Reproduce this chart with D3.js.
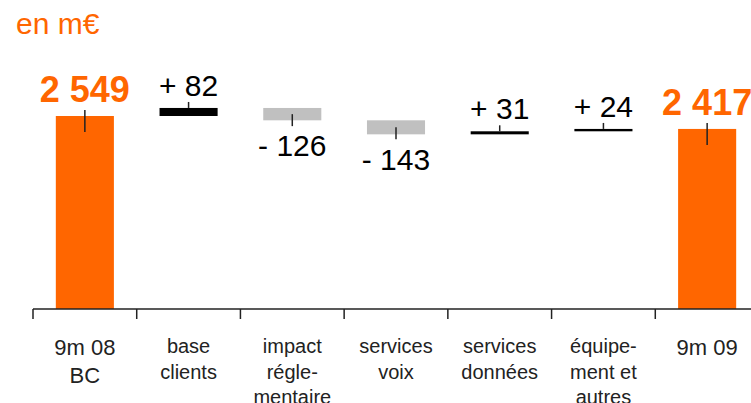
<!DOCTYPE html>
<html>
<head>
<meta charset="utf-8">
<script src="https://cdn.jsdelivr.net/npm/d3@7"></script>
<style>
  body { margin: 0; background: #fff; }
  svg { display: block; font-family: "Liberation Sans", Arial, Helvetica, sans-serif; }
</style>
</head>
<body>
<svg class="waterfall" width="751" height="403"></svg>
<script>
// data
var categories = ["9m 08 BC", "base clients", "impact réglementaire", "services voix", "services données", "équipement et autres", "9m 09"];
var tickLabels = [["9m 08", "BC"], ["base", "clients"], ["impact", "régle-", "mentaire"], ["services", "voix"], ["services", "données"], ["équipe-", "ment et", "autres"], ["9m 09"]];
var values = [2549, 82, -126, -143, 31, 24, 2417];
var kinds = ["total", "delta", "delta", "delta", "delta", "delta", "total"];
var valueLabels = ["2 549", "+ 82", "- 126", "- 143", "+ 31", "+ 24", "2 417"];

var orange = "#ff6600", grey = "#c0c0c0", ink = "#222";
var axisY = 309;

// running totals for the waterfall
var running = 0;
var data = categories.map(function(c, i) {
  var d = { cat: c, value: values[i], kind: kinds[i], label: valueLabels[i], lines: tickLabels[i] };
  if (d.kind === "total") { d.start = 0; d.end = d.value; running = d.value; }
  else { d.start = running; d.end = running + d.value; running = d.end; }
  d.hi = Math.max(d.start, d.end);
  d.lo = Math.min(d.start, d.end);
  return d;
});

var svg = d3.select(".waterfall");

var x = d3.scaleBand()
    .domain(categories)
    .range([33, 759])
    .paddingInner(0.44)
    .paddingOuter(0.22);

// broken value axis: bottom of the plot is not zero
var y = d3.scaleLinear()
    .domain([580, 2549])
    .range([axisY, 116]);

function yv(v) { return v === 0 ? axisY : y(v); }

svg.append("text")
    .attr("x", 16)
    .attr("y", 34)
    .attr("fill", orange)
    .attr("font-size", 30)
    .text("en m€");

// bars
svg.selectAll("rect.bar")
    .data(data)
  .enter().append("rect")
    .attr("class", "bar")
    .attr("x", function(d) { return x(d.cat); })
    .attr("width", x.bandwidth())
    .attr("y", function(d) { return yv(d.hi); })
    .attr("height", function(d) { return Math.max(1.5, yv(d.lo) - yv(d.hi)); })
    .attr("fill", function(d) {
      if (d.kind === "total") return orange;
      return d.value >= 0 ? "#000" : grey;
    });

// little leader strokes
svg.selectAll("line.lead")
    .data(data)
  .enter().append("line")
    .attr("class", "lead")
    .attr("x1", function(d) { return x(d.cat) + x.bandwidth() / 2; })
    .attr("x2", function(d) { return x(d.cat) + x.bandwidth() / 2; })
    .attr("y1", function(d) {
      if (d.kind === "total") return y(d.hi) - 6;
      if (d.value >= 0) return y(d.hi) - 6;
      return (y(d.hi) + y(d.lo)) / 2;
    })
    .attr("y2", function(d) {
      if (d.kind === "total") return y(d.hi) + 16;
      if (d.value >= 0) return y(d.hi);
      return (y(d.hi) + y(d.lo)) / 2 + 12;
    })
    .attr("stroke", ink)
    .attr("stroke-width", 1.5);

// value labels
svg.selectAll("text.val")
    .data(data)
  .enter().append("text")
    .attr("class", "val")
    .attr("x", function(d) { return x(d.cat) + x.bandwidth() / 2; })
    .attr("y", function(d) {
      if (d.kind === "total") return y(d.hi) - 14;
      if (d.value >= 0) return y(d.hi) - 12;
      return y(d.lo) + 36;
    })
    .attr("text-anchor", "middle")
    .attr("fill", function(d) { return d.kind === "total" ? orange : "#000"; })
    .attr("font-weight", function(d) { return d.kind === "total" ? "bold" : "normal"; })
    .attr("font-size", function(d) { return d.kind === "total" ? 36 : 30; })
    .text(function(d) { return d.label; });

// category axis
var gap = x.step() * x.paddingInner() / 2;
svg.append("line")
    .attr("x1", x.range()[0])
    .attr("x2", 751)
    .attr("y1", axisY)
    .attr("y2", axisY)
    .attr("stroke", ink)
    .attr("stroke-width", 1.5);

svg.selectAll("line.tick")
    .data(data)
  .enter().append("line")
    .attr("class", "tick")
    .attr("x1", function(d) { return x(d.cat) - gap; })
    .attr("x2", function(d) { return x(d.cat) - gap; })
    .attr("y1", axisY)
    .attr("y2", axisY + 10)
    .attr("stroke", ink)
    .attr("stroke-width", 1.5);

var cat = svg.selectAll("text.cat")
    .data(data)
  .enter().append("text")
    .attr("class", "cat")
    .attr("text-anchor", "middle")
    .attr("fill", ink)
    .attr("font-size", function(d) { return d.kind === "total" ? 22 : 20; });

cat.selectAll("tspan")
    .data(function(d) {
      return d.lines.map(function(l, i) { return { text: l, i: i, d: d }; });
    })
  .enter().append("tspan")
    .attr("x", function(t) { return x(t.d.cat) + x.bandwidth() / 2; })
    .attr("y", function(t) {
      var total = t.d.kind === "total";
      return (total ? 355 : 353) + t.i * (total ? 27.5 : 25.5);
    })
    .text(function(t) { return t.text; });
</script>
</body>
</html>
